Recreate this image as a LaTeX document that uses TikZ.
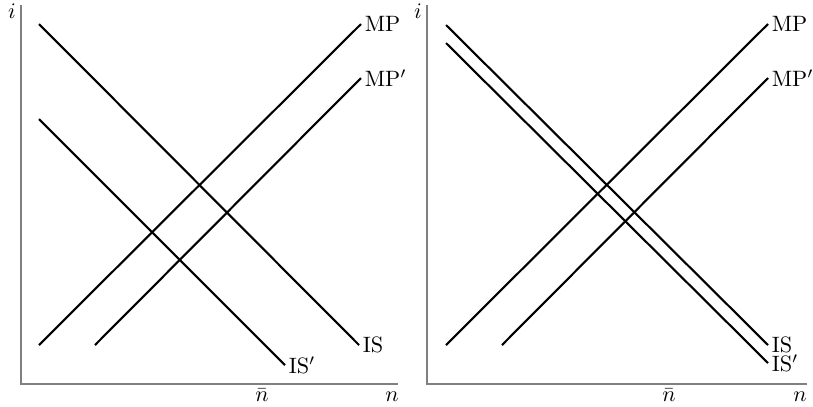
\documentclass[tikz,border=0pt]{standalone}
\usepackage{amsmath}
\usepackage{tikz}
\tikzstyle{curve}=[line width=0.95pt]
\tikzstyle{axis}=[draw=gray, line width=0.7pt]
\tikzstyle{lbl}=[anchor=west, inner xsep=1.5pt, inner ysep=0pt]
\tikzstyle{axlbl}=[anchor=base, inner sep=0pt]

\begin{document}
\begin{tikzpicture}[x=0.45pt,y=-0.45pt]
\useasboundingbox (0,0) rectangle (813,406);

% left panel
\coordinate (Y1) at (21,5);
\coordinate (O1) at (21,384);
\coordinate (X1) at (398,384);
\draw[axis] (Y1) -- (O1) -- (X1);
\node[axlbl] (i1) at (12,18) {$i$};
\node[axlbl] (n1) at (392,401) {$n$};
\node[axlbl] (nbar1) at (262,401) {$\bar{n}$};

\coordinate (ISa1) at (39,24);
\coordinate (ISb1) at (359,345);
\coordinate (ISpa1) at (39,119);
\coordinate (ISpb1) at (285,365);
\coordinate (MPa1) at (39,345);
\coordinate (MPb1) at (361,24);
\coordinate (MPpa1) at (95,345);
\coordinate (MPpb1) at (361,78);
\draw[curve] (ISa1) -- (ISb1);
\draw[curve] (ISpa1) -- (ISpb1);
\draw[curve] (MPa1) -- (MPb1);
\draw[curve] (MPpa1) -- (MPpb1);
\node[lbl] (IS1) at (ISb1) {IS};
\node[lbl] (ISp1) at (ISpb1) {IS$'$};
\node[lbl] (MP1) at (MPb1) {MP};
\node[lbl] (MPp1) at (MPpb1) {MP$'$};

% right panel
\coordinate (Y2) at (427,5);
\coordinate (O2) at (427,384);
\coordinate (X2) at (807,384);
\draw[axis] (Y2) -- (O2) -- (X2);
\node[axlbl] (i2) at (418,18) {$i$};
\node[axlbl] (n2) at (800,401) {$n$};
\node[axlbl] (nbar2) at (669,401) {$\bar{n}$};

\coordinate (ISa2) at (446,25);
\coordinate (ISb2) at (768,345);
\coordinate (ISpa2) at (446,43);
\coordinate (ISpb2) at (768,363);
\coordinate (MPa2) at (446,345);
\coordinate (MPb2) at (768,24);
\coordinate (MPpa2) at (502,345);
\coordinate (MPpb2) at (768,78);
\draw[curve] (ISa2) -- (ISb2);
\draw[curve] (ISpa2) -- (ISpb2);
\draw[curve] (MPa2) -- (MPb2);
\draw[curve] (MPpa2) -- (MPpb2);
\node[lbl] (IS2) at (ISb2) {IS};
\node[lbl] (ISp2) at (ISpb2) {IS$'$};
\node[lbl] (MP2) at (MPb2) {MP};
\node[lbl] (MPp2) at (MPpb2) {MP$'$};
\end{tikzpicture}
\end{document}
